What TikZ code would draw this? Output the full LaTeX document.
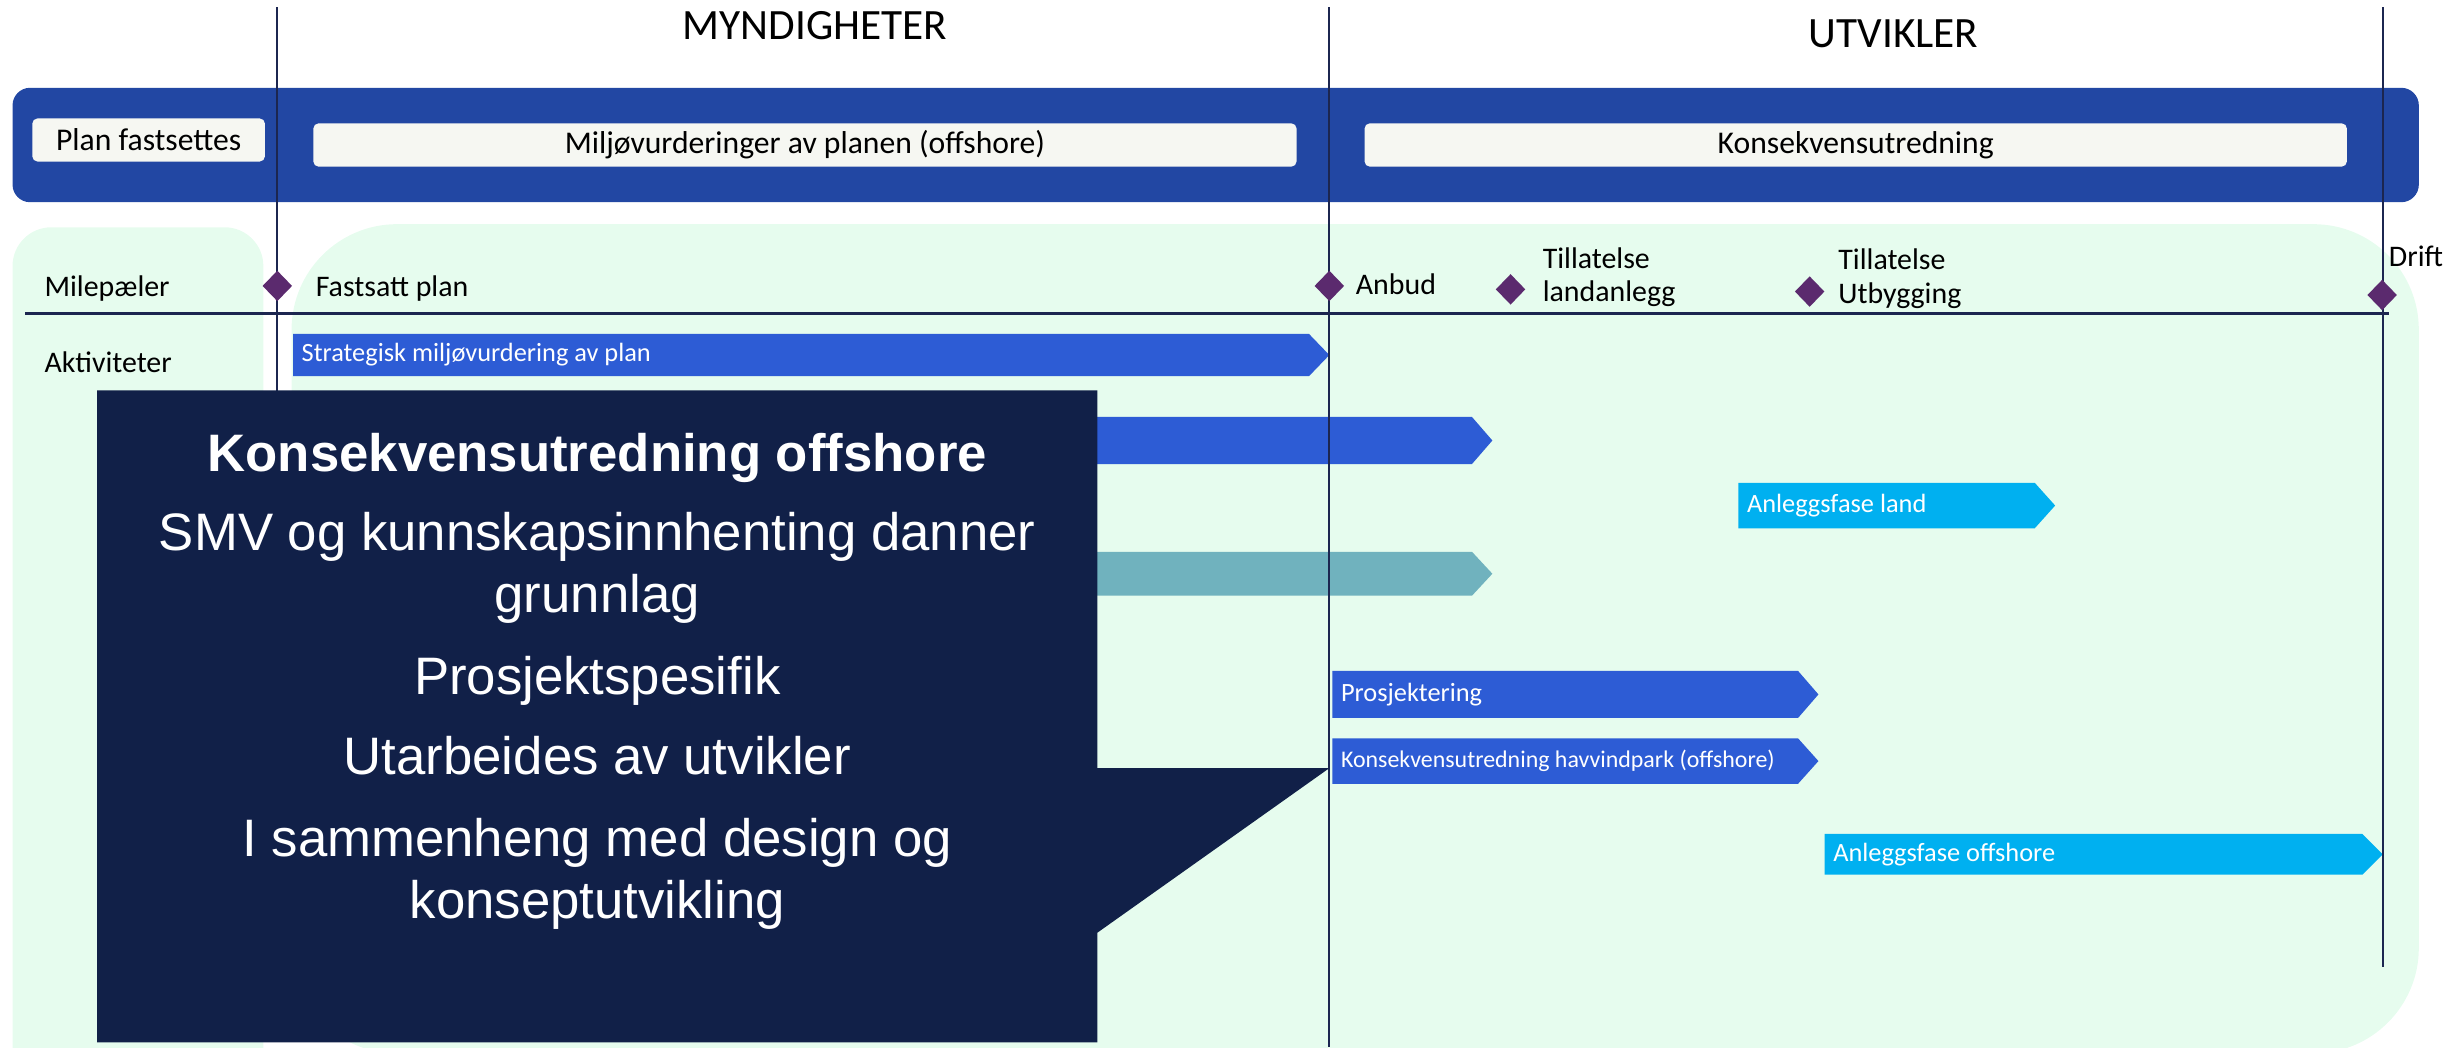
\documentclass[tikz,border=0pt]{standalone}
\usepackage{fontspec}
\setmainfont{Carlito}
\newfontfamily\arialfont{Liberation Sans}
\usetikzlibrary{shapes.geometric}
\definecolor{bandblue}{RGB}{34,71,163}
\definecolor{boxwhite}{RGB}{246,247,242}
\definecolor{panelgreen}{RGB}{230,252,238}
\definecolor{barblue}{RGB}{45,92,213}
\definecolor{barcyan}{RGB}{0,176,240}
\definecolor{barteal}{RGB}{112,178,190}
\definecolor{linenavy}{RGB}{28,38,80}
\definecolor{milepurple}{RGB}{91,42,110}
\definecolor{calloutnavy}{RGB}{17,32,72}

\begin{document}
\begin{tikzpicture}[x=0.015676cm,y=-0.015676cm,
	cab/.style={font=\fontsize{12.3}{14}\selectfont,inner sep=0pt,anchor=base},
	caja/.style={fill=boxwhite,rounded corners=1.5pt,inner sep=0pt,font=\fontsize{9}{11}\selectfont},
	lbl/.style={font=\fontsize{8.5}{9.5}\selectfont,inner sep=0pt,anchor=base west,align=left},
	bartxt/.style={font=\fontsize{7.5}{9}\selectfont,text=white,inner sep=0pt,anchor=west},
	hito/.style={diamond,fill=milepurple,minimum width=0.3cm,minimum height=0.31cm,inner sep=0pt},
	eje/.style={draw=linenavy,line width=0.6pt},
	ktxt/.style={font=\arialfont\fontsize{15}{17.8}\selectfont,text=white,align=center,inner sep=0pt,anchor=base}]
	\def\tira#1#2#3#4#5{\fill[#1] (#2,#4) -- (#3-13,#4) -- (#3,{(#4+#5)/2}) -- (#3-13,#5) -- (#2,#5) -- cycle;}
	\useasboundingbox (0,0) rectangle (1568,668);
	% fondo
	\fill[panelgreen,rounded corners=11pt] (8,145) rectangle (168,700);
	\fill[panelgreen,rounded corners=30pt] (186,143) rectangle (1543,672);
	\fill[bandblue,rounded corners=5pt] (8,56) rectangle (1543,129);
	\node[caja,minimum width=2.326cm,minimum height=0.431cm] (plan) at (94.8,89.3) {Plan fastsettes};
	\node[caja,minimum width=9.829cm,minimum height=0.433cm] (miljo) at (513.5,92.5) {Miljøvurderinger av planen (offshore)};
	\node[caja,minimum width=9.82cm,minimum height=0.433cm] (kons) at (1183.8,92.5) {Konsekvensutredning};
	\node[cab] (myn) at (520,25.5) {MYNDIGHETER};
	\node[cab] (utv) at (1208,30.4) {UTVIKLER};
	% aktiviteter
	\tira{barblue}{187}{848}{213}{240}
	\tira{barblue}{187}{952}{266}{296}
	\tira{barcyan}{1109}{1311}{308}{337}
	\tira{barteal}{187}{952}{352}{380}
	\tira{barblue}{850}{1160}{428}{458}
	\tira{barblue}{850}{1160}{471}{500}
	\tira{barcyan}{1164}{1520}{532}{558}
	\node[bartxt] (smv) at (192,226.5) {Strategisk miljøvurdering av plan};
	\node[bartxt] (land) at (1114,322.5) {Anleggsfase land};
	\node[bartxt] (pros) at (855,443) {Prosjektering};
	\node[bartxt,font=\fontsize{6.8}{8}\selectfont] (kuhav) at (855,485.5) {Konsekvensutredning havvindpark (offshore)};
	\node[bartxt] (offs) at (1169,545) {Anleggsfase offshore};
	% tidslinje
	\draw[eje] (176.9,4.7) -- (176.9,600)
		(848,4.7) -- (848,668)
		(1520,4.7) -- (1520,617);
	\draw[eje,line width=0.9pt] (16,200) -- (1524,200);
	\node[hito] (m1) at (176.9,182.4) {};
	\node[hito] (m2) at (848,182.4) {};
	\node[hito] (m3) at (963.6,184.6) {};
	\node[hito] (m4) at (1154.4,186) {};
	\node[hito] (m5) at (1519.6,188.2) {};
	\node[lbl] (mil) at (28,189) {Milepæler};
	\node[lbl] (akt) at (28,237.8) {Aktiviteter};
	\node[lbl] (fast) at (201,189) {Fastsatt plan};
	\node[lbl] (anb) at (864.5,188) {Anbud};
	\node[lbl] (till1) at (983.7,192.4) {Tillatelse\\landanlegg};
	\node[lbl] (till2) at (1172.3,193.5) {Tillatelse\\Utbygging};
	\node[lbl] (drift) at (1523.5,170) {Drift};
	% boble
	\fill[calloutnavy] (62,249) -- (700,249) -- (700,490) -- (848,490) -- (700,595)
		-- (700,665) -- (62,665) -- cycle;
	\node[ktxt] (kt) at (381,301) {\bfseries Konsekvensutredning offshore};
	\node[ktxt] (k1) at (381,391) {SMV og kunnskapsinnhenting danner\\grunnlag};
	\node[ktxt] (k2) at (381,443) {Prosjektspesifik};
	\node[ktxt] (k3) at (381,494) {Utarbeides av utvikler};
	\node[ktxt] (k4) at (381,586) {I sammenheng med design og\\konseptutvikling};
\end{tikzpicture}
\end{document}
